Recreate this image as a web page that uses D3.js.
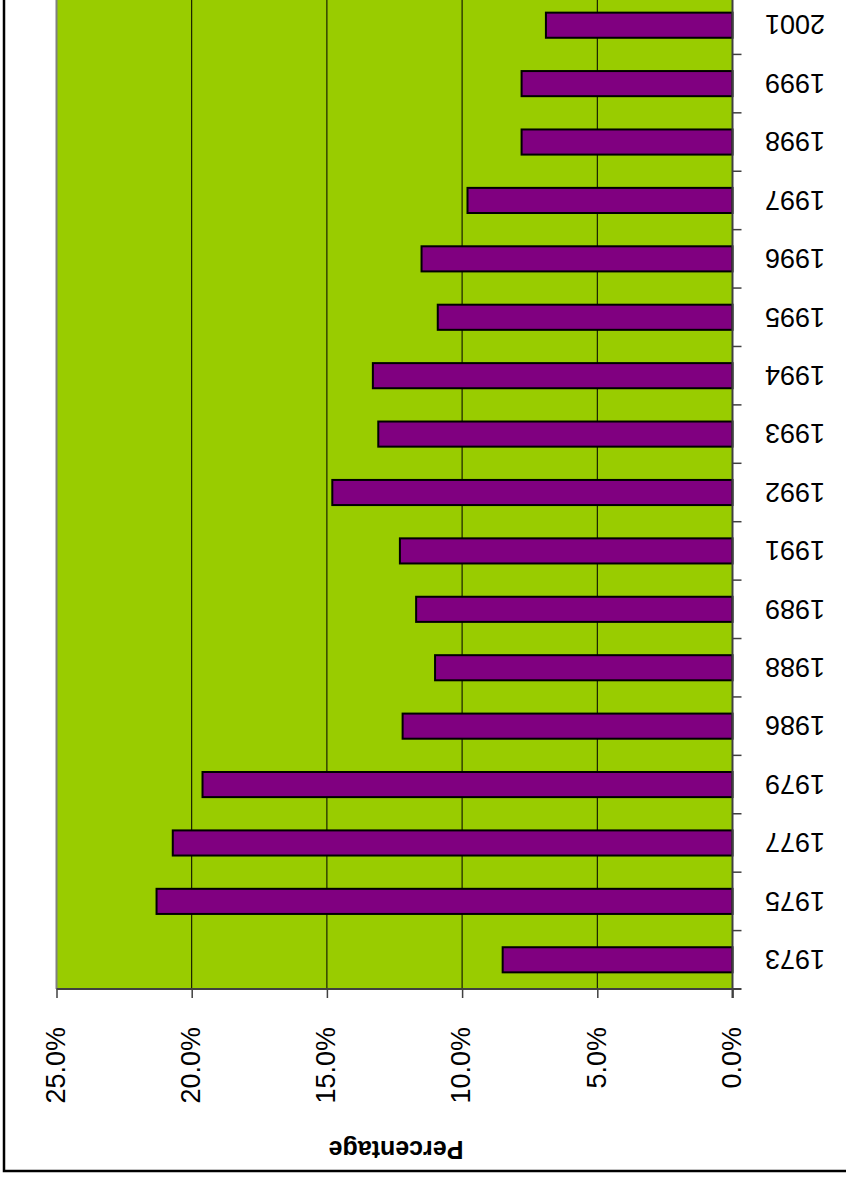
<!DOCTYPE html>
<html>
<head>
<meta charset="utf-8">
<script src="https://cdn.jsdelivr.net/npm/d3@7"></script>
<style>
  html, body { margin: 0; padding: 0; background: #ffffff; }
  svg { display: block; font-family: "Liberation Sans", Arial, sans-serif; }
</style>
</head>
<body>
<div id="chart"></div>
<script>
// ---- data ----
const years = ["1973","1975","1977","1979","1986","1988","1989","1991","1992","1993","1994","1995","1996","1997","1998","1999","2001"];
const percentages = [8.5, 21.3, 20.7, 19.6, 12.2, 11.0, 11.7, 12.3, 14.8, 13.1, 13.3, 10.9, 11.5, 9.8, 7.8, 7.8, 6.9];
const valueTicks = [0, 5, 10, 15, 20, 25];
const axisTitle = "Percentage";

// ---- layout ----
const W = 846, H = 1180;
const plotLeft = 56.5, plotRight = 732.5, plotBottom = 989, plotTop = -4;

const svg = d3.select("#chart").append("svg")
  .attr("width", W).attr("height", H);

// outer chart border (left and bottom visible)
svg.append("rect")
  .attr("x", 4).attr("y", -10)
  .attr("width", W + 20).attr("height", 1181)
  .attr("fill", "#ffffff").attr("stroke", "#000000").attr("stroke-width", 2.5);

const x = d3.scaleLinear().domain([0, 25]).range([plotRight, plotLeft]);
const y = d3.scaleBand().domain(years).range([plotBottom, plotTop])
  .paddingInner(0.57).paddingOuter(0.285);

// plot area
svg.append("rect")
  .attr("x", x(25)).attr("y", plotTop)
  .attr("width", x(0) - x(25)).attr("height", plotBottom - plotTop)
  .attr("fill", "#99CC00");
svg.append("line")
  .attr("x1", x(25)).attr("x2", x(25)).attr("y1", plotTop).attr("y2", plotBottom)
  .attr("stroke", "#808080").attr("stroke-width", 2);

// gridlines
svg.append("g").selectAll("line")
  .data(valueTicks.filter(v => v > 0 && v < 25))
  .join("line")
  .attr("x1", d => x(d)).attr("x2", d => x(d))
  .attr("y1", plotTop).attr("y2", plotBottom)
  .attr("stroke", "#000000").attr("stroke-width", 1);

// bars
svg.append("g").selectAll("rect")
  .data(years.map((yr, i) => ({yr, v: percentages[i]})))
  .join("rect")
  .attr("x", d => x(d.v))
  .attr("y", d => y(d.yr))
  .attr("width", d => x(0) - x(d.v))
  .attr("height", y.bandwidth())
  .attr("fill", "#800080")
  .attr("stroke", "#000000").attr("stroke-width", 2);

// value axis (bottom)
const xAxis = d3.axisBottom(x).tickValues(valueTicks)
  .tickFormat(d => d.toFixed(1) + "%").tickSize(9).tickSizeOuter(0);
const gx = svg.append("g").attr("transform", `translate(0,${plotBottom})`).call(xAxis);
gx.select(".domain").attr("stroke", "#404040").attr("stroke-width", 2)
  .attr("d", `M${x(25)},0H${x(0) + 9}`);
gx.selectAll(".tick line").attr("stroke", "#404040").attr("stroke-width", 1.5);
gx.selectAll(".tick text")
  .attr("y", 0).attr("dy", "0.36em")
  .attr("transform", "translate(-2,38) rotate(-90)")
  .attr("text-anchor", "end")
  .attr("fill", "#000000")
  .style("font-size", "27px")
  .style("font-family", "'Liberation Sans', Arial, sans-serif");

// category axis (right)
const step = y.step();
svg.append("line")
  .attr("x1", plotRight).attr("x2", plotRight)
  .attr("y1", plotTop).attr("y2", plotBottom + 9)
  .attr("stroke", "#404040").attr("stroke-width", 2);
svg.append("g").selectAll("line")
  .data(years)
  .join("line")
  .attr("x1", plotRight).attr("x2", plotRight + 9)
  .attr("y1", d => y(d) + y.bandwidth() / 2 - step / 2)
  .attr("y2", d => y(d) + y.bandwidth() / 2 - step / 2)
  .attr("stroke", "#404040").attr("stroke-width", 1.5);
svg.append("g").selectAll("text")
  .data(years)
  .join("text")
  .attr("transform", d => `translate(825,${y(d) + y.bandwidth() / 2}) rotate(180)`)
  .attr("text-anchor", "start")
  .attr("dy", "0.36em")
  .style("font-size", "27px")
  .text(d => d);

// axis title
svg.append("text")
  .attr("transform", "translate(396,1150) rotate(180)")
  .attr("text-anchor", "middle")
  .attr("dominant-baseline", "central")
  .style("font-size", "25px")
  .style("font-weight", "bold")
  .text(axisTitle);
</script>
</body>
</html>
